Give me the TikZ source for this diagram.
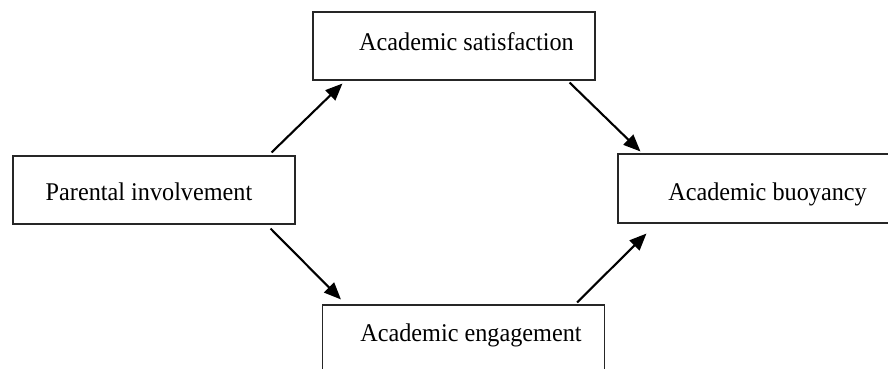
\documentclass[tikz,border=0pt]{standalone}
\usepackage{fontspec}
\setmainfont[FakeStretch=0.95]{Liberation Serif}
\usetikzlibrary{arrows.meta}
\begin{document}
\begin{tikzpicture}[x=1pt,y=-1pt,
  box/.style={draw=black!85,line width=1.1pt,inner sep=0pt,minimum width=282pt,minimum height=68pt},
  lbl/.style={anchor=base,inner sep=0pt,font=\fontsize{25.5}{30}\selectfont},
  arr/.style={line width=2.1pt,-{Triangle[length=17pt,width=14pt]}}]
\useasboundingbox (0,0) rectangle (888,369);
\clip (0,0) rectangle (888,369);
\fill[white] (0,0) rectangle (888,369);
\node[box] (sat) at (454,46) {};
\node[box] (par) at (154,190) {};
\node[box,minimum height=69pt] (buo) at (759,188.5) {};
\node[box] (eng) at (463.5,339) {};
\node[lbl] (tsat) at (466.5,51) {Academic satisfaction};
\node[lbl] (tpar) at (149,200) {Parental involvement};
\node[lbl] (tbuo) at (767.5,200) {Academic buoyancy};
\node[lbl] (teng) at (471,341) {Academic engagement};
\draw[arr] ([xshift=-24pt,yshift=3pt]par.north east) -- ([xshift=30pt,yshift=-3pt]sat.south west);
\draw[arr] ([xshift=-26pt,yshift=-2pt]sat.south east) -- ([xshift=23pt,yshift=2pt]buo.north west);
\draw[arr] ([xshift=-25pt,yshift=-4pt]par.south east) -- ([xshift=19pt,yshift=5pt]eng.north west);
\draw[arr] ([xshift=-28pt,yshift=2pt]eng.north east) -- ([xshift=29pt,yshift=-10pt]buo.south west);
\end{tikzpicture}
\end{document}
